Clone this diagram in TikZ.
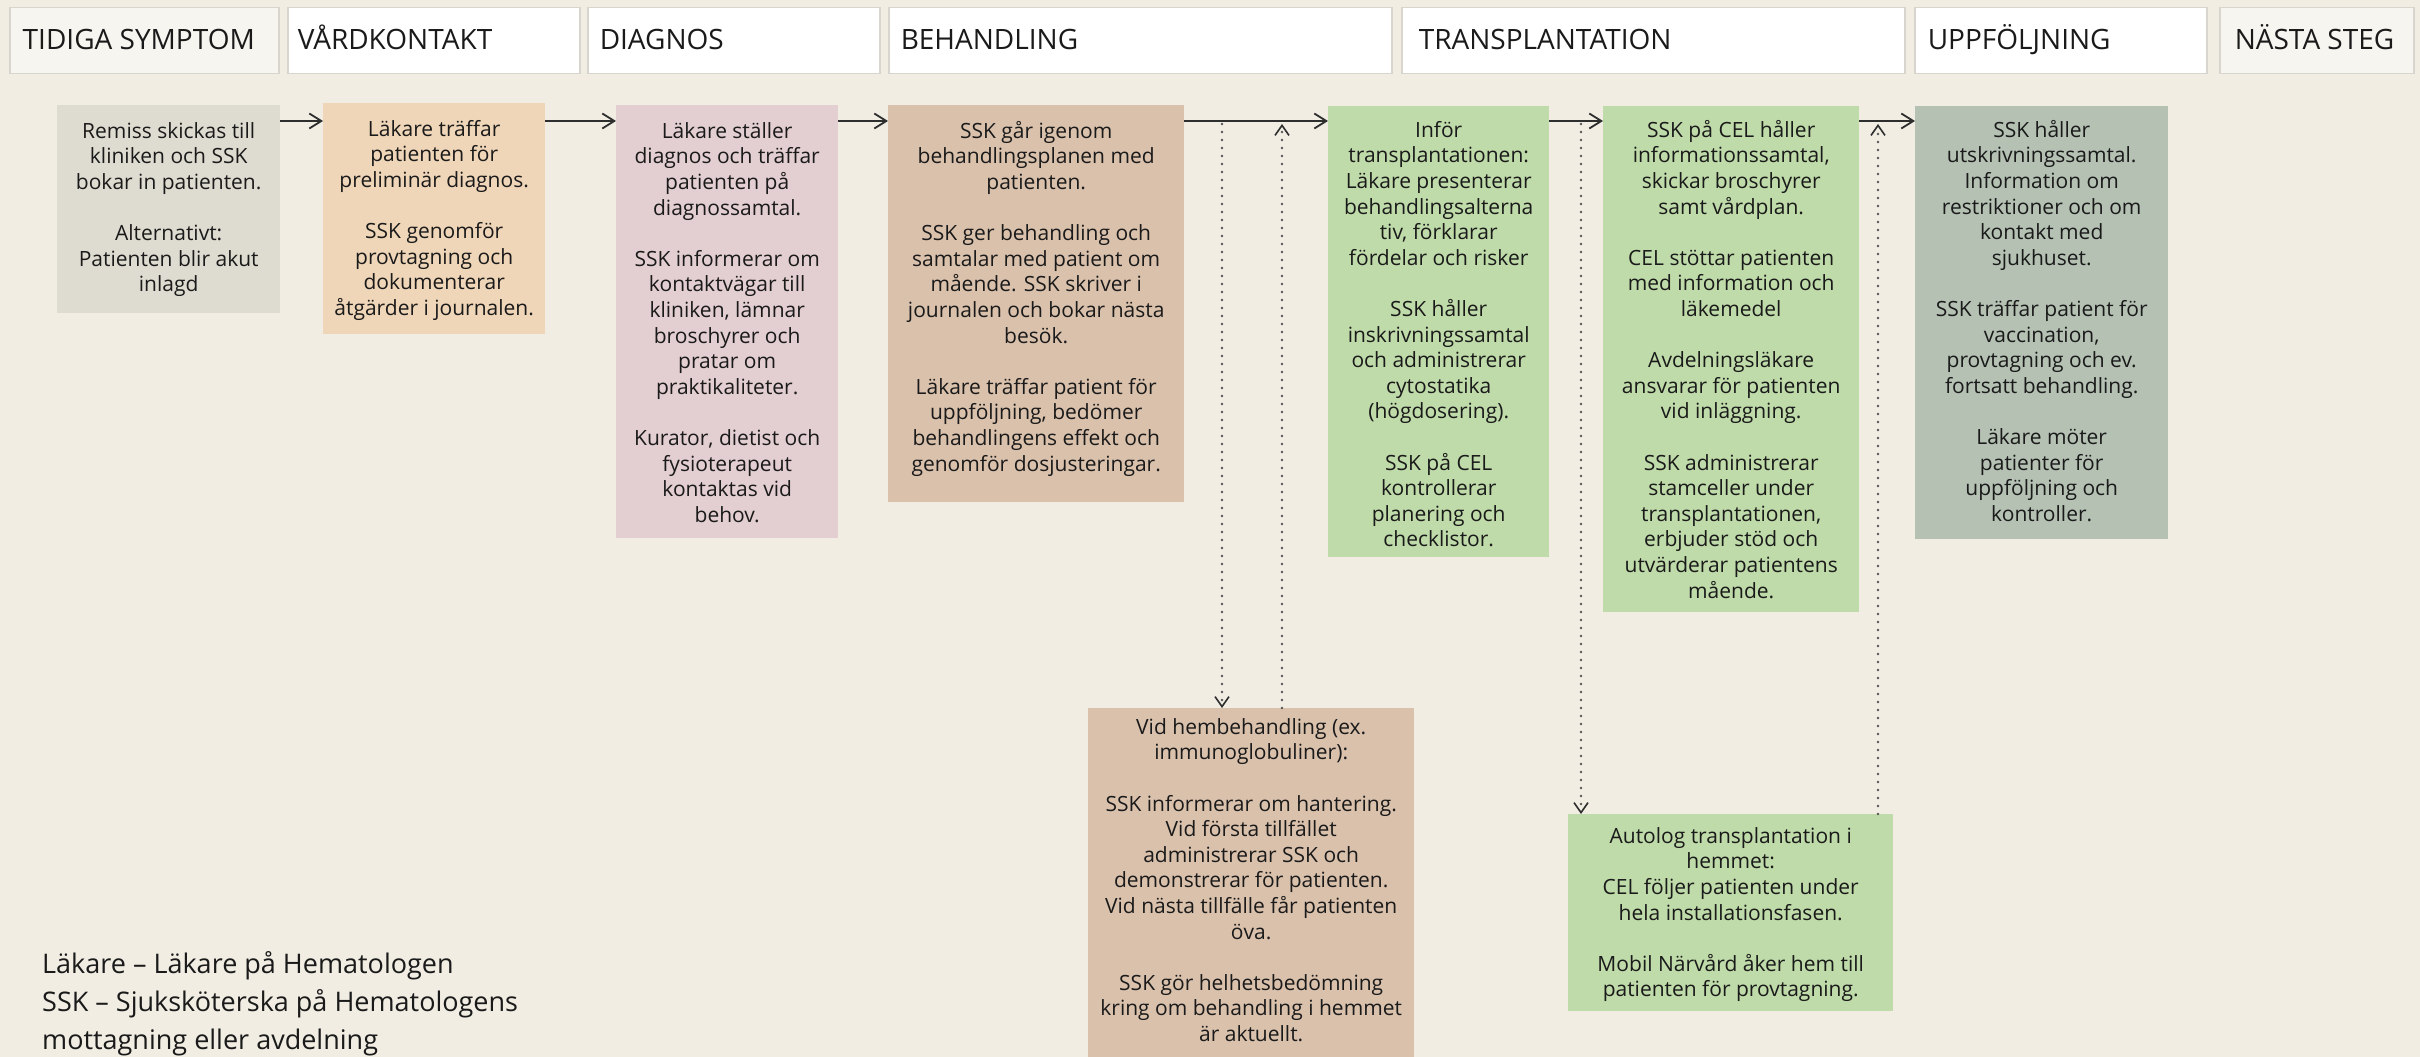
\documentclass[tikz,border=0pt]{standalone}
\usepackage{fontspec}
\setmainfont{Open Sans}
\usetikzlibrary{arrows.meta}

\definecolor{paper}{HTML}{F1EDE3}
\definecolor{ink}{HTML}{1A1A1A}
\definecolor{rulec}{HTML}{D8D5CE}
\definecolor{phaselight}{HTML}{F7F5EF}
\definecolor{cremiss}{HTML}{DEDCD0}
\definecolor{cvard}{HTML}{F0D6B8}
\definecolor{cdiag}{HTML}{E3CED1}
\definecolor{cbeh}{HTML}{DAC1AC}
\definecolor{cgreen}{HTML}{BFDBA9}
\definecolor{cupp}{HTML}{B4C1B3}
\definecolor{arrowc}{HTML}{2E2E2E}
\definecolor{dotc}{HTML}{555555}

% card body: fixed-size box, text centred and hung from a strut at the top
\newcommand{\cardtext}[4]{\parbox[c][#2][t]{#1}{\centering\rule{0pt}{#3}#4}}
\newcommand{\gap}{\\[25.6pt]}

\tikzset{
  chev/.tip={Straight Barb[length=12pt,width=15pt]},
  dchev/.tip={Straight Barb[length=10pt,width=14pt,line width=1.6pt,color=arrowc]},
  phase/.style={draw=rulec, line width=1.5pt, fill=white, anchor=north west,
    minimum height=66pt, inner ysep=0pt, text height=24pt, text depth=6pt,
    font=\fontsize{28}{30}\selectfont, text=ink},
  card/.style={anchor=north west, inner sep=0pt, text=ink,
    font=\fontsize{21}{25.6}\selectfont},
  flow/.style={draw=arrowc, line width=1.8pt, -{chev}},
  dotline/.style={draw=dotc, line width=2.8pt, line cap=round,
    dash pattern=on 0pt off 8pt},
}

\begin{document}
\begin{tikzpicture}[x=1pt,y=-1pt]
\useasboundingbox (0,0) rectangle (2420,1057);
\clip (0,0) rectangle (2420,1057);
\fill[paper] (0,0) rectangle (2420,1057);

% phase headers
\node[phase, fill=phaselight, inner xsep=13pt] (p1) at (9,7)    {\makebox[243pt][l]{TIDIGA SYMPTOM}};
\node[phase, inner xsep=10pt] (p2) at (287,7)  {\makebox[272pt][l]{VÅRDKONTAKT}};
\node[phase, inner xsep=12pt] (p3) at (587,7)  {\makebox[268pt][l]{DIAGNOS}};
\node[phase, inner xsep=12pt] (p4) at (888,7)  {\makebox[479pt][l]{BEHANDLING}};
\node[phase, inner xsep=17pt] (p5) at (1401,7) {\makebox[469pt][l]{TRANSPLANTATION}};
\node[phase, inner xsep=13pt] (p6) at (1914,7) {\makebox[266pt][l]{UPPFÖLJNING}};
\node[phase, fill=phaselight, inner xsep=15pt] (p7) at (2219,7) {\makebox[164pt][l]{NÄSTA STEG}};

% main path cards
\node[card, fill=cremiss] (remiss) at (57,105) {\cardtext{223pt}{208pt}{33pt}{%
Remiss skickas till\\kliniken och SSK\\bokar in patienten.\gap
Alternativt:\\Patienten blir akut\\inlagd}};

\node[card, fill=cvard] (vard) at (323,103) {\cardtext{222pt}{231pt}{33pt}{%
Läkare träffar\\patienten för\\preliminär diagnos.\gap
SSK genomför\\provtagning och\\dokumenterar\\åtgärder i journalen.}};

\node[card, fill=cdiag] (diag) at (616,105) {\cardtext{222pt}{433pt}{33pt}{%
Läkare ställer\\diagnos och träffar\\patienten på\\diagnossamtal.\gap
SSK informerar om\\kontaktvägar till\\kliniken, lämnar\\broschyrer och\\pratar om\\praktikaliteter.\gap
Kurator, dietist och\\fysioterapeut\\kontaktas vid\\behov.}};

\node[card, fill=cbeh] (beh) at (888,105) {\cardtext{296pt}{397pt}{33pt}{%
SSK går igenom\\behandlingsplanen med\\patienten.\gap
SSK ger behandling och\\samtalar med patient om\\mående. SSK skriver i\\journalen och bokar nästa\\besök.\gap
Läkare träffar patient för\\uppföljning, bedömer\\behandlingens effekt och\\genomför dosjusteringar.}};

\node[card, fill=cgreen] (infor) at (1328,106) {\cardtext{221pt}{451pt}{31pt}{%
Inför\\transplantationen:\\Läkare presenterar\\behandlingsalterna\\tiv, förklarar\\fördelar och risker\gap
SSK håller\\inskrivningssamtal\\och administrerar\\cytostatika\\(högdosering).\gap
SSK på CEL\\kontrollerar\\planering och\\checklistor.}};

\node[card, fill=cgreen] (cel) at (1603,106) {\cardtext{256pt}{506pt}{31pt}{%
SSK på CEL håller\\informationssamtal,\\skickar broschyrer\\samt vårdplan.\gap
CEL stöttar patienten\\med information och\\läkemedel\gap
Avdelningsläkare\\ansvarar för patienten\\vid inläggning.\gap
SSK administrerar\\stamceller under\\transplantationen,\\erbjuder stöd och\\utvärderar patientens\\mående.}};

\node[card, fill=cupp] (upp) at (1915,106) {\cardtext{253pt}{433pt}{31pt}{%
SSK håller\\utskrivningssamtal.\\Information om\\restriktioner och om\\kontakt med\\sjukhuset.\gap
SSK träffar patient för\\vaccination,\\provtagning och ev.\\fortsatt behandling.\gap
Läkare möter\\patienter för\\uppföljning och\\kontroller.}};

% home-care branches
\node[card, fill=cbeh] (hem) at (1088,708) {\cardtext{326pt}{362pt}{26pt}{%
Vid hembehandling (ex.\\immunoglobuliner):\gap
SSK informerar om hantering.\\Vid första tillfället\\administrerar SSK och\\demonstrerar för patienten.\\Vid nästa tillfälle får patienten\\öva.\gap
SSK gör helhetsbedömning\\kring om behandling i hemmet\\är aktuellt.}};

\node[card, fill=cgreen] (auto) at (1568,814) {\cardtext{325pt}{197pt}{29pt}{%
Autolog transplantation i\\hemmet:\\CEL följer patienten under\\hela installationsfasen.\gap
Mobil Närvård åker hem till\\patienten för provtagning.}};

% legend
\node[anchor=north west, inner sep=0pt, align=left, text=ink,
  font=\fontsize{27}{38}\selectfont] (legend) at (42,947)
  {\rule{0pt}{26pt}Läkare – Läkare på Hematologen\\
   SSK – Sjuksköterska på Hematologens\\
   mottagning eller avdelning};

% main flow
\coordinate (lane) at (0,121);
\coordinate (laneB) at (0,124);
\draw[flow] (remiss.east |- lane) -- (vard.west |- lane);
\draw[flow] (vard.east |- lane) -- (diag.west |- lane);
\draw[flow] (diag.east |- lane) -- (beh.west |- lane);
\draw[flow] (beh.east |- lane) -- (infor.west |- lane);
\draw[flow] (infor.east |- lane) -- (cel.west |- lane);
\draw[flow] (cel.east |- lane) -- (upp.west |- lane);

% detours to and from home care
\coordinate (hemL) at ([xshift=134pt]hem.north west);
\coordinate (hemR) at ([xshift=194pt]hem.north west);
\coordinate (autoL) at ([xshift=13pt]auto.north west);
\coordinate (autoR) at ([xshift=310pt]auto.north west);
\draw[dotline, -{dchev}] (hemL |- laneB) -- (hemL);
\draw[dotline, -{dchev}] (hemR) -- (hemR |- laneB);
\draw[dotline, -{dchev}] (autoL |- laneB) -- (autoL);
\draw[dotline, -{dchev}] (autoR) -- (autoR |- laneB);
\end{tikzpicture}
\end{document}
